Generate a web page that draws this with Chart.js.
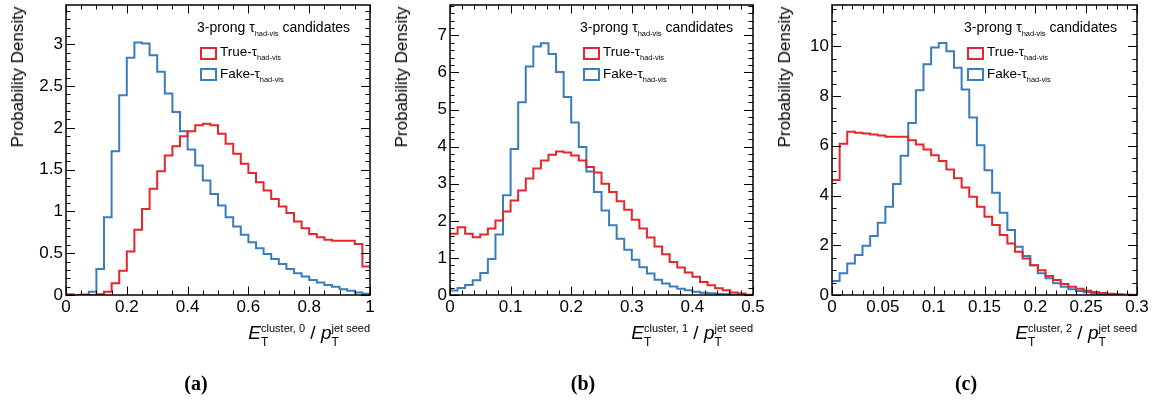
<!DOCTYPE html>
<html>
<head>
<meta charset="utf-8">
<script src="https://cdn.jsdelivr.net/npm/chart.js@4.4.0/dist/chart.umd.min.js"></script>
<style>
  body { margin: 0; background: #fff; width: 1159px; height: 400px; position: relative; overflow: hidden;
         font-family: "Liberation Sans", Arial, sans-serif; color: #000; }
  canvas { position: absolute; top: 0; }
  .ytitle { position: absolute; transform: translate(-50%, -50%) rotate(-90deg); font-size: 17px; white-space: nowrap; }
  .hdr { position: absolute; font-size: 14px; line-height: 14px; white-space: nowrap; }
  .lab { position: absolute; font-size: 13.5px; line-height: 13.5px; white-space: nowrap; }
  .hdr sub, .lab sub { font-size: 7.4px; vertical-align: -4px; line-height: 0; }
  .box { position: absolute; width: 13px; height: 9px; border: 2px solid; }
  .xt { position: absolute; font-size: 19px; line-height: 40px; white-space: nowrap; }
  .xt i { font-style: italic; }
  .sc { display: inline-block; vertical-align: -7px; }
  .sp { display: block; font-size: 11px; line-height: 14px; }
  .sb { display: block; font-size: 12px; line-height: 14px; }
  .cap { position: absolute; transform: translate(-50%, -50%); font-family: "Liberation Serif", "Times New Roman", serif;
         font-weight: bold; font-size: 20px; }
</style>
</head>
<body>
<canvas id="chartA" width="390" height="400" style="left:0px"></canvas>
<canvas id="chartB" width="390" height="400" style="left:384px"></canvas>
<canvas id="chartC" width="393" height="400" style="left:766px"></canvas>
<div id="overlay"></div>
<script>
// ===== Data (40 bins per panel) =====
const nBins = 40;
const seriesNames = ["True-\u03C4", "Fake-\u03C4"];
const headerText = "3-prong \u03C4";
const panelLetters = ["(a)", "(b)", "(c)"];
const clusterIndex = ["0", "1", "2"];

// (a) E_T^cluster,0 / p_T^jet seed, range 0..1
const xMaxA = 1;
const trueA = [0, 0, 0, 0, 0.01, 0.04, 0.14, 0.29, 0.52, 0.78,
               1.03, 1.27, 1.48, 1.67, 1.78, 1.90, 1.96, 2.03, 2.05, 2.03,
               1.93, 1.81, 1.69, 1.57, 1.46, 1.35, 1.25, 1.15, 1.06, 0.98,
               0.88, 0.80, 0.73, 0.69, 0.66, 0.65, 0.65, 0.65, 0.61, 0.34];
const fakeA = [0.01, 0, 0.005, 0.04, 0.31, 0.93, 1.72, 2.39, 2.84, 3.02,
               3.01, 2.87, 2.67, 2.41, 2.19, 1.96, 1.74, 1.55, 1.37, 1.21,
               1.07, 0.93, 0.82, 0.72, 0.63, 0.56, 0.49, 0.43, 0.37, 0.31,
               0.26, 0.22, 0.18, 0.15, 0.12, 0.10, 0.07, 0.05, 0.03, 0.015];

// (b) E_T^cluster,1 / p_T^jet seed, range 0..0.5
const xMaxB = 0.5;
const trueB = [1.65, 1.83, 1.65, 1.56, 1.63, 1.79, 2.01, 2.25, 2.55, 2.82,
               3.14, 3.41, 3.63, 3.78, 3.87, 3.84, 3.76, 3.63, 3.45, 3.30,
               3.00, 2.78, 2.53, 2.30, 2.03, 1.79, 1.55, 1.31, 1.10, 0.89,
               0.74, 0.61, 0.49, 0.35, 0.26, 0.18, 0.13, 0.07, 0.04, 0.01];
const fakeB = [0.12, 0.19, 0.27, 0.40, 0.59, 0.97, 1.63, 2.69, 3.94, 5.20,
               6.16, 6.70, 6.79, 6.50, 6.01, 5.34, 4.65, 3.99, 3.33, 2.78,
               2.28, 1.88, 1.52, 1.22, 0.95, 0.75, 0.58, 0.41, 0.31, 0.23,
               0.17, 0.13, 0.09, 0.06, 0.045, 0.03, 0.02, 0.01, 0.005, 0];

// (c) E_T^cluster,2 / p_T^jet seed, range 0..0.3
const xMaxC = 0.3;
const trueC = [4.62, 6.08, 6.56, 6.52, 6.49, 6.45, 6.41, 6.36, 6.36, 6.36,
               6.22, 6.05, 5.85, 5.62, 5.39, 5.05, 4.69, 4.32, 3.95, 3.55,
               3.15, 2.81, 2.41, 2.07, 1.74, 1.47, 1.20, 1.00, 0.76, 0.60,
               0.44, 0.33, 0.25, 0.17, 0.12, 0.08, 0.05, 0.03, 0.015, 0.01];
const fakeC = [0.56, 0.87, 1.27, 1.61, 1.98, 2.37, 2.90, 3.55, 4.46, 5.60,
               6.92, 8.23, 9.28, 9.95, 10.13, 9.80, 9.14, 8.26, 7.14, 6.02,
               5.02, 4.11, 3.31, 2.61, 1.94, 1.57, 1.20, 0.87, 0.67, 0.47,
               0.33, 0.23, 0.16, 0.11, 0.07, 0.04, 0.03, 0.015, 0.01, 0];

const RED = "#e5262c";
const BLUE = "#3a7dbf";
const FONT = "'Liberation Sans', Arial, sans-serif";

// ===== Helpers =====
function histPoints(vals, xMax) {
  const w = xMax / vals.length;
  const pts = vals.map((v, i) => ({ x: i * w, y: v }));
  pts.push({ x: xMax, y: vals[vals.length - 1] });
  return pts;
}

function fmt(v) {
  return String(+v.toFixed(3));
}

// ROOT-style frame with inward ticks on all four sides
const frameTicks = {
  id: "frameTicks",
  afterDatasetsDraw(chart, args, opts) {
    const { ctx, chartArea: a } = chart;
    const xs = chart.scales.x, ys = chart.scales.y;
    ctx.save();
    ctx.strokeStyle = "#000";
    ctx.lineWidth = 1;
    ctx.beginPath();
    const eps = 1e-9;
    for (let k = 0; k * opts.xMinor <= xs.max + eps; k++) {
      const v = k * opts.xMinor;
      const major = Math.abs(v / opts.xMajor - Math.round(v / opts.xMajor)) < 1e-6;
      const len = major ? 8.5 : 4.5;
      const px = Math.round(xs.getPixelForValue(v)) + 0.5;
      ctx.moveTo(px, a.bottom); ctx.lineTo(px, a.bottom - len);
      ctx.moveTo(px, a.top); ctx.lineTo(px, a.top + len);
    }
    for (let k = 0; k * opts.yMinor <= ys.max + eps; k++) {
      const v = k * opts.yMinor;
      const major = Math.abs(v / opts.yMajor - Math.round(v / opts.yMajor)) < 1e-6;
      const len = major ? 9 : 4.5;
      const py = Math.round(ys.getPixelForValue(v)) + 0.5;
      ctx.moveTo(a.left, py); ctx.lineTo(a.left + len, py);
      ctx.moveTo(a.right, py); ctx.lineTo(a.right - len, py);
    }
    ctx.stroke();
    ctx.lineWidth = 1.5;
    ctx.strokeRect(a.left, a.top, a.right - a.left, a.bottom - a.top);
    ctx.restore();
  }
};

function makePanel(id, xMax, xMajor, xMinor, yMax, yMajor, yMinor, trueVals, fakeVals, padRight) {
  const ctx = document.getElementById(id).getContext("2d");
  return new Chart(ctx, {
    type: "line",
    data: {
      datasets: [
        { label: seriesNames[0], data: histPoints(trueVals, xMax), borderColor: RED, borderWidth: 2,
          stepped: "before", pointRadius: 0, fill: false },
        { label: seriesNames[1], data: histPoints(fakeVals, xMax), borderColor: BLUE, borderWidth: 2,
          stepped: "before", pointRadius: 0, fill: false }
      ]
    },
    options: {
      responsive: false,
      animation: false,
      layout: { padding: { top: 5, right: padRight, bottom: 0, left: 0 } },
      plugins: { legend: { display: false }, tooltip: { enabled: false }, frameTicks: { xMajor, xMinor, yMajor, yMinor } },
      scales: {
        x: {
          type: "linear", min: 0, max: xMax,
          grid: { display: false, drawTicks: false }, border: { display: false },
          ticks: { stepSize: xMajor, includeBounds: false, autoSkip: false, maxRotation: 0, padding: 2,
                   color: "#000", font: { family: FONT, size: 17 }, callback: fmt },
          afterFit(s) { s.height = 105; s.paddingLeft = 0; s.paddingRight = 0; }
        },
        y: {
          min: 0, max: yMax,
          grid: { display: false, drawTicks: false }, border: { display: false },
          ticks: { stepSize: yMajor, includeBounds: false, padding: 3,
                   color: "#000", font: { family: FONT, size: 17 }, callback: fmt },
          afterFit(s) { s.width = 66; s.paddingTop = 0; s.paddingBottom = 0; }
        }
      }
    },
    plugins: [frameTicks]
  });
}

makePanel("chartA", xMaxA, 0.2, 0.05, 3.47, 0.5, 0.1, trueA, fakeA, 20);
makePanel("chartB", xMaxB, 0.1, 0.02, 7.82, 1, 0.2, trueB, fakeB, 21);
makePanel("chartC", xMaxC, 0.05, 0.01, 11.66, 2, 0.5, trueC, fakeC, 22);

// ===== Text overlays (titles, legend, captions) =====
const plotRights = [370, 753, 1137];
const yTitleX = [18, 402, 785];
const capX = [196, 583, 966];
let html = "";
plotRights.forEach((R, k) => {
  html += `<div class="ytitle" style="left:${yTitleX[k]}px;top:77px">Probability Density</div>`;
  html += `<div class="hdr" style="left:${R - 173}px;top:20px">${headerText}<sub>had-vis</sub> candidates</div>`;
  html += `<div class="box" style="left:${R - 170}px;top:47px;border-color:${RED}"></div>`;
  html += `<div class="lab" style="left:${R - 150}px;top:45px">${seriesNames[0]}<sub>had-vis</sub></div>`;
  html += `<div class="box" style="left:${R - 170}px;top:68px;border-color:${BLUE}"></div>`;
  html += `<div class="lab" style="left:${R - 150}px;top:66.5px">${seriesNames[1]}<sub>had-vis</sub></div>`;
  html += `<div class="xt" style="right:${1159 - R}px;top:313px"><i>E</i><span class="sc"><span class="sp">cluster, ${clusterIndex[k]}</span><span class="sb">T</span></span> / <i>p</i><span class="sc"><span class="sp">jet seed</span><span class="sb">T</span></span></div>`;
  html += `<div class="cap" style="left:${capX[k]}px;top:383px">${panelLetters[k]}</div>`;
});
document.getElementById("overlay").innerHTML = html;
</script>
</body>
</html>
